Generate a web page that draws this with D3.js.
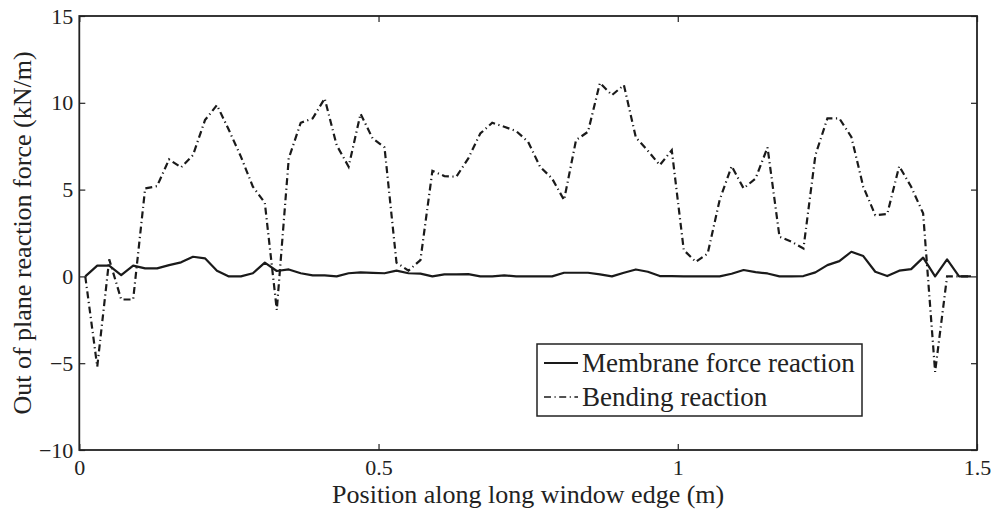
<!doctype html>
<html>
<head>
  <style>
      body {
         margin:0;
         background:#fff;
      }
      svg {
         width:992px;
         height:511px;
         display:block;
      }
      text {
         font-family:"Liberation Serif","Times New Roman",serif;
         fill:#222;
      }
      .axis path {
         display:none;
      }
      .axis line {
         stroke:#222;
         stroke-width:1.2;
      }
      .axis text {
         font-size:22px;
      }
      .frame {
         fill:none;
         stroke:#222;
         stroke-width:1.8;
      }
      .membrane {
         fill:none;
         stroke:#1a1a1a;
         stroke-width:2.2;
         stroke-linejoin:round;
      }
      .bending {
         fill:none;
         stroke:#1a1a1a;
         stroke-width:2.2;
         stroke-dasharray:7,3.5,1.2,3.5;
      }
  </style>
  <script src="https://cdn.jsdelivr.net/npm/d3@7"></script>
</head>

<body>
  <script>

      // Positions along the edge (m)
      var positions = [0.01,0.03,0.05,0.07,0.09,0.11,0.13,0.15,0.17,0.19,
                       0.21,0.23,0.25,0.27,0.29,0.31,0.33,0.35,0.37,0.39,
                       0.41,0.43,0.45,0.47,0.49,0.51,0.53,0.55,0.57,0.59,
                       0.61,0.63,0.65,0.67,0.69,0.71,0.73,0.75,0.77,0.79,
                       0.81,0.83,0.85,0.87,0.89,0.91,0.93,0.95,0.97,0.99,
                       1.01,1.03,1.05,1.07,1.09,1.11,1.13,1.15,1.17,1.19,
                       1.21,1.23,1.25,1.27,1.29,1.31,1.33,1.35,1.37,1.39,
                       1.41,1.43,1.45,1.47,1.49];

      // Membrane force reaction (kN/m)
      var membrane = [0.0,0.62,0.62,0.08,0.62,0.46,0.46,0.65,0.81,1.13,
                      1.04,0.33,0.0,0.0,0.18,0.79,0.31,0.40,0.18,0.06,
                      0.06,0.0,0.18,0.23,0.20,0.18,0.33,0.18,0.16,0.0,
                      0.12,0.12,0.13,0.0,0.0,0.06,0.0,0.0,0.0,0.0,
                      0.21,0.21,0.21,0.12,0.0,0.21,0.40,0.27,0.02,0.02,
                      0.0,0.0,0.0,0.0,0.15,0.37,0.25,0.17,0.0,0.0,
                      0.02,0.23,0.65,0.88,1.42,1.17,0.27,0.02,0.33,0.42,
                      1.08,0.0,0.98,0.0,0.0];

      // Bending reaction (kN/m)
      var bending = [0.0,-5.2,0.98,-1.33,-1.33,5.07,5.2,6.74,6.28,6.99,
                     9.0,9.87,8.43,6.9,5.17,4.24,-1.93,6.8,8.85,9.1,
                     10.25,7.56,6.32,9.37,7.95,7.43,0.79,0.33,0.94,6.08,
                     5.78,5.74,6.8,8.23,8.85,8.62,8.37,7.75,6.31,5.64,
                     4.4,7.85,8.33,11.15,10.44,11.02,8.0,7.24,6.41,7.27,
                     1.52,0.84,1.32,4.4,6.35,5.07,5.64,7.43,2.28,2.0,
                     1.61,6.99,9.1,9.1,8.04,5.16,3.53,3.59,6.35,5.16,
                     3.63,-5.5,0.0,0.0,0.0];

      // Ticks and their labels
      var xTicks = [0, 0.5, 1, 1.5];
      var xTickLabels = ["0", "0.5", "1", "1.5"];
      var yTicks = [-10, -5, 0, 5, 10, 15];
      var yTickLabels = ["\u221210", "\u22125", "0", "5", "10", "15"];
      var seriesNames = ["Membrane force reaction", "Bending reaction"];

      // Plot box
      var boxLeft = 79.3, boxRight = 977, boxTop = 16, boxBottom = 450;

      var x = d3.scaleLinear().domain([0, 1.5]).range([boxLeft, boxRight]);
      var y = d3.scaleLinear().domain([-10, 15]).range([boxBottom, boxTop]);

      var svgDoc = d3.select("body").append("svg");

      // Axes, ticks pointing inward on all four sides
      svgDoc.append("g")
         .attr("class", "axis")
         .attr("transform", "translate(0," + boxBottom + ")")
         .call(d3.axisBottom(x).tickValues(xTicks)
            .tickFormat(function(d, i) { return xTickLabels[i]; })
            .tickSize(-6).tickPadding(9));

      svgDoc.append("g")
         .attr("class", "axis")
         .attr("transform", "translate(0," + boxTop + ")")
         .call(d3.axisTop(x).tickValues(xTicks).tickFormat("").tickSize(-6));

      svgDoc.append("g")
         .attr("class", "axis")
         .attr("transform", "translate(" + boxLeft + ",0)")
         .call(d3.axisLeft(y).tickValues(yTicks)
            .tickFormat(function(d, i) { return yTickLabels[i]; })
            .tickSize(-6).tickPadding(6));

      svgDoc.append("g")
         .attr("class", "axis")
         .attr("transform", "translate(" + boxRight + ",0)")
         .call(d3.axisRight(y).tickValues(yTicks).tickFormat("").tickSize(-6));

      // Lines
      var line = d3.line()
         .x(function(d) { return x(d[0]); })
         .y(function(d) { return y(d[1]); });

      svgDoc.append("path")
         .attr("class", "bending")
         .attr("d", line(d3.zip(positions, bending)));

      svgDoc.append("path")
         .attr("class", "membrane")
         .attr("d", line(d3.zip(positions, membrane)));

      // Frame
      svgDoc.append("rect")
         .attr("class", "frame")
         .attr("x", boxLeft)
         .attr("y", boxTop)
         .attr("width", boxRight - boxLeft)
         .attr("height", boxBottom - boxTop);

      // Axis titles
      svgDoc.append("text")
         .attr("x", (boxLeft + boxRight) / 2)
         .attr("y", 503)
         .attr("text-anchor", "middle")
         .style("font-size", "26px")
         .text("Position along long window edge (m)");

      svgDoc.append("text")
         .attr("transform", "translate(31," + ((boxTop + boxBottom) / 2) + ") rotate(-90)")
         .attr("text-anchor", "middle")
         .style("font-size", "26px")
         .text("Out of plane reaction force (kN/m)");

      // Legend
      var legend = svgDoc.append("g");

      legend.append("rect")
         .attr("x", 537)
         .attr("y", 344)
         .attr("width", 325)
         .attr("height", 72)
         .attr("fill", "#fff")
         .attr("stroke", "#222")
         .attr("stroke-width", 1.5);

      legend.selectAll("line")
         .data(seriesNames)
         .enter()
         .append("line")
         .attr("class", function(d, i) { return i == 0 ? "membrane" : "bending"; })
         .attr("x1", 544)
         .attr("x2", 578)
         .attr("y1", function(d, i) { return 363 + i * 34; })
         .attr("y2", function(d, i) { return 363 + i * 34; })
         .style("stroke-width", function(d, i) { return i == 0 ? 2 : 1.4; });

      legend.selectAll("text")
         .data(seriesNames)
         .enter()
         .append("text")
         .attr("x", 582)
         .attr("y", function(d, i) { return 372 + i * 34; })
         .style("font-size", "27px")
         .text(function(d) { return d; });

  </script>
</body>
</html>
